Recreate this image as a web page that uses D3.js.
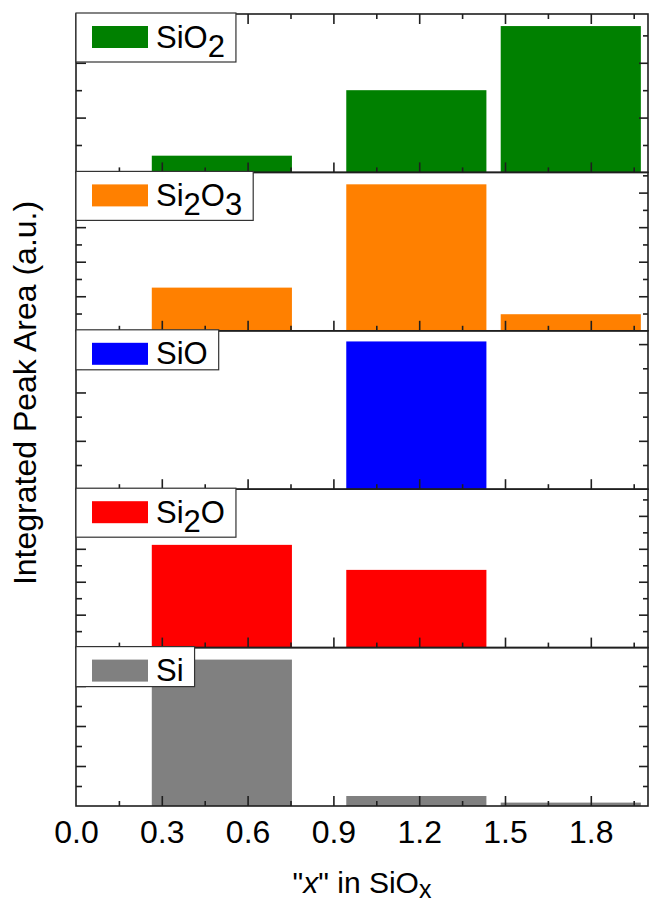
<!DOCTYPE html>
<html>
<head>
<meta charset="utf-8">
<script src="https://cdn.jsdelivr.net/npm/d3@7/dist/d3.min.js"></script>
<style>
  html, body { margin: 0; padding: 0; background: #fff; }
  svg { display: block; font-family: "Liberation Sans", Arial, sans-serif; }
</style>
</head>
<body>
<svg id="chart" width="649" height="902"></svg>
<script>
// ---- data ----
const species = ["SiO2", "Si2O3", "SiO", "Si2O", "Si"];
const colors = ["#008000", "#ff8000", "#0000ff", "#ff0000", "#808080"];
const xValues = [0.51, 1.19, 1.73];          // "x" in SiOx for each bar
const barWidth = 0.49;                       // bar width in x units
const sio2Values  = [0.61, 3.00, 5.34];
const si2o3Values = [2.50, 8.48, 0.96];
const sioValues   = [0.00, 6.11, 0.00];
const si2oValues  = [6.24, 4.72, 0.00];
const siValues    = [7.32, 0.50, 0.17];
const seriesValues = [sio2Values, si2o3Values, sioValues, si2oValues, siValues];
const yMaxes = [5.78, 9.17, 6.55, 9.62, 7.92];  // a.u. top of each panel
const xTickValues = [0.0, 0.3, 0.6, 0.9, 1.2, 1.5, 1.8];
const xMinorValues = [0.15, 0.45, 0.75, 1.05, 1.35, 1.65, 1.95];

// ---- layout ----
const svg = d3.select("#chart");
const mLeft = 76, mRight = 648, mTop = 14, mBottom = 806;
const nP = species.length;
const pH = (mBottom - mTop) / nP;
const font = "Liberation Sans, Arial, sans-serif";
const frameColor = "#1f1f1f";

const x = d3.scaleLinear().domain([0, 2.0]).range([mLeft, mRight]);

const gBars = svg.append("g");
const gAxes = svg.append("g");
const gLeg = svg.append("g");

species.forEach((name, i) => {
  const pTop = mTop + i * pH, pBot = pTop + pH;
  const y = d3.scaleLinear().domain([0, yMaxes[i]]).range([pBot, pTop]);
  const vals = seriesValues[i];

  // bars
  gBars.selectAll(null).data(xValues.map((xv, k) => ({xv, v: vals[k]})).filter(d => d.v > 0))
    .enter().append("rect")
    .attr("x", d => x(d.xv - barWidth / 2))
    .attr("width", d => x(d.xv + barWidth / 2) - x(d.xv - barWidth / 2))
    .attr("y", d => y(d.v))
    .attr("height", d => y(0) - y(d.v))
    .attr("fill", colors[i]);

  // y ticks (every 1 unit, major every 2)
  const yt = d3.range(1, Math.floor(yMaxes[i]) + 1);
  const yMajor = yt.filter(v => v % 2 === 0), yMinor = yt.filter(v => v % 2 === 1);
  const addY = (axisFn, tx, tv, len) => {
    const g = gAxes.append("g").attr("transform", `translate(${tx},0)`)
      .call(axisFn(y).tickValues(tv).tickSizeInner(-len).tickSizeOuter(0).tickFormat(""));
    g.select(".domain").remove();
    g.selectAll("line").attr("stroke", frameColor).attr("stroke-width", 1.6);
  };
  addY(d3.axisLeft, mLeft, yMajor, 10);
  addY(d3.axisLeft, mLeft, yMinor, 6);
  addY(d3.axisRight, mRight, yMajor, 9);
  addY(d3.axisRight, mRight, yMinor, 5);

  // x ticks on bottom of each panel (pointing up)
  const addX = (axisFn, ty, tv, len) => {
    const g = gAxes.append("g").attr("transform", `translate(0,${ty})`)
      .call(axisFn(x).tickValues(tv).tickSizeInner(-len).tickSizeOuter(0).tickFormat(""));
    g.select(".domain").remove();
    g.selectAll("line").attr("stroke", frameColor).attr("stroke-width", 1.6);
  };
  addX(d3.axisBottom, pBot, xTickValues.filter(v => v > 0), 10);
  addX(d3.axisBottom, pBot, xMinorValues, 5);
  if (i === 0) {
    addX(d3.axisTop, pTop, xTickValues.filter(v => v > 0), 10);
    addX(d3.axisTop, pTop, xMinorValues, 5);
  }

  // frame
  gAxes.append("rect")
    .attr("x", mLeft).attr("y", pTop).attr("width", mRight - mLeft).attr("height", pH)
    .attr("fill", "none").attr("stroke", frameColor).attr("stroke-width", 1.6);

  // legend
  const hasSub = /\d/.test(name);
  const bx = mLeft, by = pTop - 1;
  const lg = gLeg.append("g");
  const box = lg.append("rect").attr("x", bx).attr("y", by)
    .attr("height", hasSub ? 49 : 40)
    .attr("fill", "#fff").attr("stroke", "#333").attr("stroke-width", 1.2);
  lg.append("rect").attr("x", bx + 16).attr("y", by + 13).attr("width", 56).attr("height", 22)
    .attr("fill", colors[i]);
  const t = lg.append("text").attr("x", bx + 80).attr("y", by + 34.5)
    .attr("font-size", 31).attr("font-family", font).attr("fill", "#000");
  const parts = name.match(/[A-Za-z]+|\d+/g);
  let shifted = false;
  parts.forEach(p => {
    const isNum = /\d/.test(p);
    const ts = t.append("tspan").text(p);
    if (isNum && !shifted) { ts.attr("dy", 9); shifted = true; }
    else if (!isNum && shifted) { ts.attr("dy", -9); shifted = false; }
  });
  const w = t.node().getComputedTextLength();
  box.attr("width", 80 + w + 11);
});

// x tick labels
const gl = svg.append("g").attr("transform", `translate(0,${mBottom})`)
  .call(d3.axisBottom(x).tickValues(xTickValues).tickSize(0).tickPadding(14)
    .tickFormat(d3.format(".1f")));
gl.select(".domain").remove();
gl.selectAll("text").attr("font-size", 32).attr("font-family", font).attr("fill", "#000");

// x title
const xt = svg.append("text").attr("x", (mLeft + mRight) / 2).attr("y", 893)
  .attr("text-anchor", "middle").attr("font-size", 30).attr("font-family", font).attr("fill", "#000");
xt.append("tspan").text("\"");
xt.append("tspan").attr("font-style", "italic").text("x");
xt.append("tspan").text("\" in SiO");
xt.append("tspan").attr("dy", 5).attr("font-size", 25).text("x");

// y title
svg.append("text")
  .attr("transform", "translate(35.5,393) rotate(-90)")
  .attr("text-anchor", "middle").attr("font-size", 32).attr("font-family", font).attr("fill", "#000")
  .text("Integrated Peak Area (a.u.)");
</script>
</body>
</html>
